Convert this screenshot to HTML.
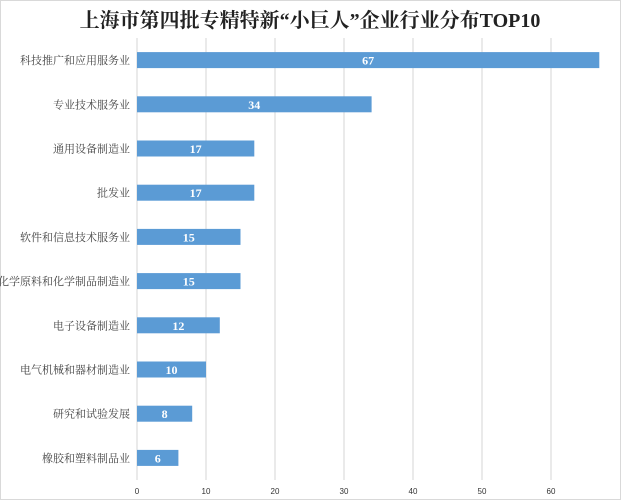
<!DOCTYPE html>
<html><head><meta charset="utf-8"><style>
body{margin:0;background:#fff;}
svg{display:block;}
</style></head><body>
<svg width="621" height="500">
<rect x="0.5" y="0.5" width="620" height="499" fill="#fff" stroke="#d9d9d9"/>
<text x="310" y="27" text-anchor="middle" font-family="'Liberation Serif','Noto Serif CJK SC',serif" font-weight="bold" font-size="20" fill="#222">上海市第四批专精特新“小巨人”企业行业分布TOP10</text>
<g id="grid"></g><g id="bars"></g><g id="xt"></g>
</svg>
<script>
const categories=["科技推广和应用服务业","专业技术服务业","通用设备制造业","批发业","软件和信息技术服务业","化学原料和化学制品制造业","电子设备制造业","电气机械和器材制造业","研究和试验发展","橡胶和塑料制品业"];
const values=[67,34,17,17,15,15,12,10,8,6];
const ticks=[0,10,20,30,40,50,60];
const NS="http://www.w3.org/2000/svg";
const x0=137,ppu=6.9,top0=38,bottom=480;
const xs=v=>x0+v*ppu;
const band=(bottom-top0)/categories.length;
const yc=i=>top0+band*(i+0.5);
function mk(t,a,p){const e=document.createElementNS(NS,t);for(const k in a)e.setAttribute(k,a[k]);p.appendChild(e);return e;}
const grid=document.getElementById('grid'),bars=document.getElementById('bars'),xt=document.getElementById('xt');
ticks.forEach(t=>{
const l=mk('line',{x1:xs(t),x2:xs(t),y1:top0,y2:bottom,stroke:'#e3e3e3','stroke-width':1.5},grid);


const tx=mk('text',{x:xs(t),y:494,'text-anchor':'middle','font-family':'Liberation Sans,sans-serif','font-size':8,fill:'#333'},xt);
tx.textContent=t;


});
categories.forEach((c,i)=>{
const y=yc(i);
const r=mk('rect',{x:x0,y:y-8,width:xs(values[i])-x0,height:16,fill:'#5b9bd5'},bars);


const v=mk('text',{x:(x0+xs(values[i]))/2,y:y+4.5,'text-anchor':'middle','font-family':'Liberation Serif,serif','font-weight':'bold','font-size':12,fill:'#fff'},bars);
v.textContent=values[i];


const lb=mk('text',{x:130,y:y+4,'text-anchor':'end','font-family':"'Liberation Serif','Noto Serif CJK SC',serif",'font-size':11,fill:'#444'},bars);
lb.textContent=c;


});
</script>
</body></html>
